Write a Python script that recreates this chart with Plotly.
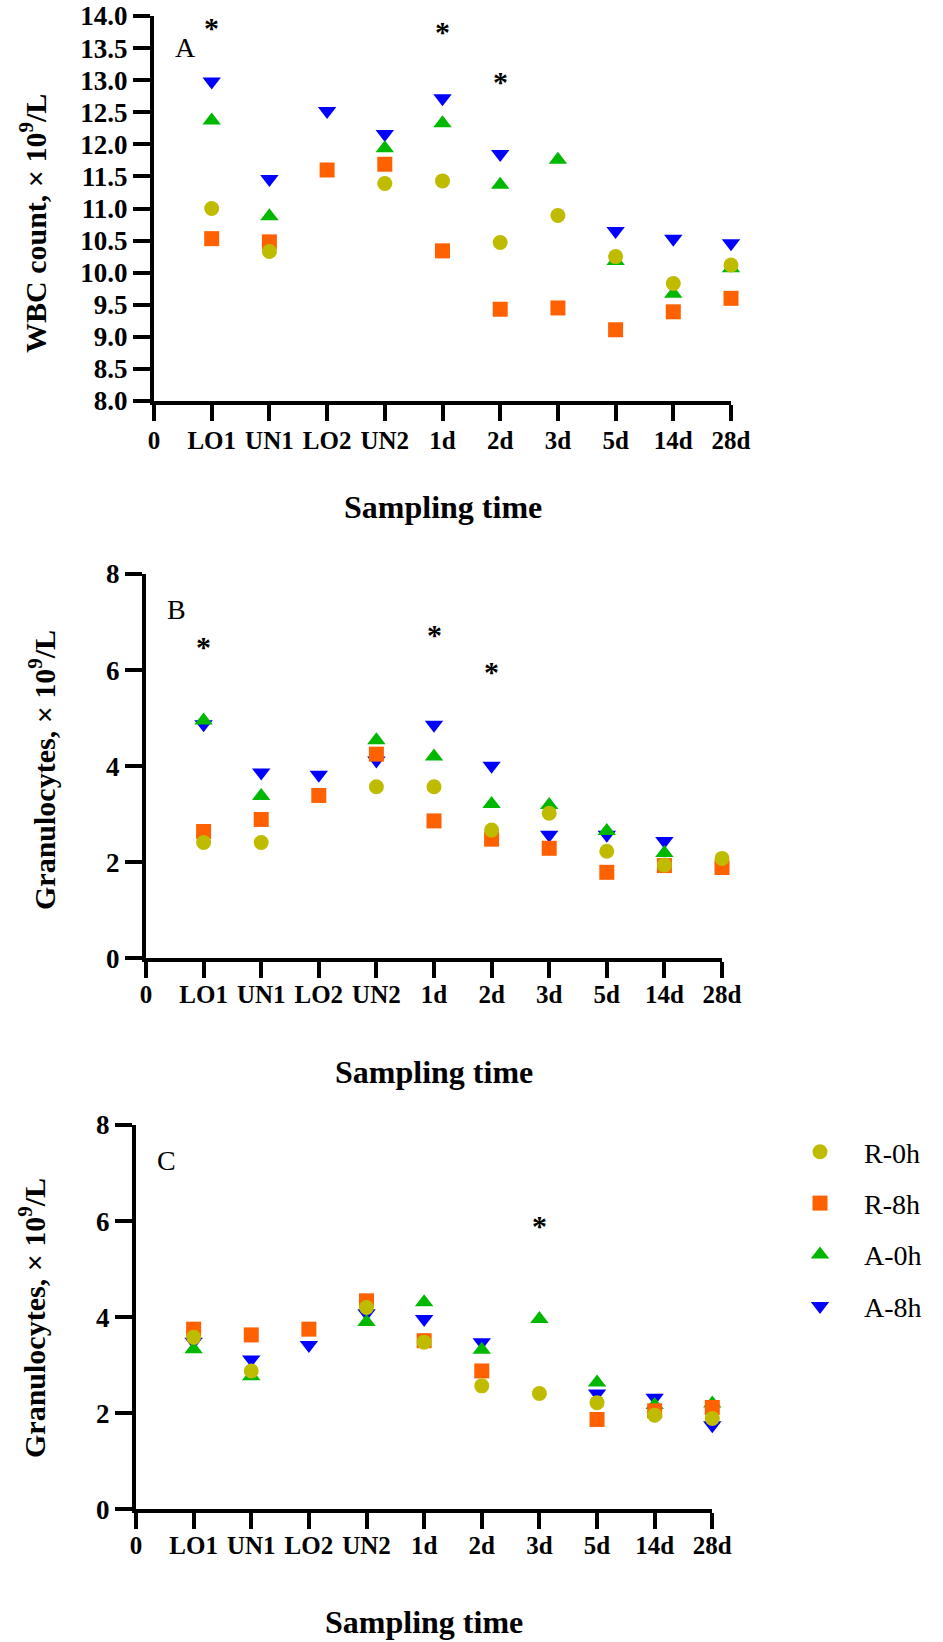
import plotly.graph_objects as go

W, H = 943, 1642

# ---------------- data ----------------
categories = ["LO1", "UN1", "LO2", "UN2", "1d", "2d", "3d", "5d", "14d", "28d"]
tick_labels = ["0"] + categories
series_names = ["R-0h", "R-8h", "A-0h", "A-8h"]

# Panel A: WBC count (x10^9/L)
wbc_r0 = [11.00, 10.33, None, 11.39, 11.43, 10.47, 10.89, 10.25, 9.83, 10.12]
wbc_r8 = [10.53, 10.48, 11.60, 11.69, 10.34, 9.43, 9.45, 9.11, 9.39, 9.60]
wbc_a0 = [12.37, 10.88, None, 11.94, 12.33, 11.37, 11.76, 10.18, 9.67, 10.07]
wbc_a8 = [12.98, 11.46, 12.52, 12.16, 12.72, 11.85, None, 10.65, 10.53, 10.46]

# Panel B: Granulocytes (x10^9/L)
granB_r0 = [2.41, 2.41, None, 3.57, 3.57, 2.67, 3.02, 2.23, 1.94, 2.08]
granB_r8 = [2.64, 2.89, 3.39, 4.25, 2.86, 2.48, 2.29, 1.79, 1.93, 1.89]
granB_a0 = [4.95, 3.38, None, 4.54, 4.20, 3.21, 3.19, 2.65, 2.19, None]
granB_a8 = [4.87, 3.87, 3.82, 4.12, 4.86, 4.01, 2.57, 2.57, 2.44, None]

# Panel C: Granulocytes (x10^9/L)
granC_r0 = [3.58, 2.88, None, 4.20, 3.48, 2.57, 2.41, 2.22, 1.96, 1.89]
granC_r8 = [3.75, 3.63, 3.75, 4.34, 3.51, 2.88, None, 1.87, 2.05, 2.12]
granC_a0 = [3.33, 2.77, None, 3.90, 4.31, 3.32, 3.96, 2.64, 2.17, 2.20]
granC_a8 = [3.49, 3.12, 3.42, 4.08, 3.96, 3.48, None, 2.41, 2.32, 1.75]

# significance markers (category, value)
starA_cats = ["LO1", "1d", "2d"]
starA_vals = [13.83, 13.78, 13.00]
starB_cats = ["LO1", "1d", "2d"]
starB_vals = [6.52, 6.77, 5.99]
starC_cats = ["3d"]
starC_vals = [5.92]

# ---------------- styles ----------------
colors = {"R-0h": "#BFBC00", "R-8h": "#FF6000", "A-0h": "#00B800", "A-8h": "#0000FF"}
symbols = {"R-0h": "circle", "R-8h": "square", "A-0h": "triangle-up", "A-8h": "triangle-down"}
sizes = {"R-0h": 15, "R-8h": 15, "A-0h": 16, "A-8h": 16}
ranks = {"R-0h": 1, "R-8h": 2, "A-0h": 3, "A-8h": 4}
SERIF = "Liberation Serif"


def px_x(p):
    return p / W


def px_y(p):
    return 1 - p / H


xpos = list(range(1, len(categories) + 1))
cat_index = {c: i + 1 for i, c in enumerate(categories)}

panels = [
    dict(data={"R-0h": wbc_r0, "R-8h": wbc_r8, "A-0h": wbc_a0, "A-8h": wbc_a8},
         xdom=(154, 731), ydom=(16, 401), yrange=[8, 14],
         yticks=[8 + 0.5 * i for i in range(13)], yfmt="{:.1f}",
         ytitle="WBC count, × 10<sup>9</sup>/L", ytitle_x=33, ytitle_y=224,
         letter="A", letter_pos=(185, 48),
         stars=(starA_cats, starA_vals), xtitle_y=507, xlab_standoff=-2),
    dict(data={"R-0h": granB_r0, "R-8h": granB_r8, "A-0h": granB_a0, "A-8h": granB_a8},
         xdom=(146, 722), ydom=(574, 958.3), yrange=[0, 8],
         yticks=[0, 2, 4, 6, 8], yfmt="{:d}",
         ytitle="Granulocytes, × 10<sup>9</sup>/L", ytitle_x=42, ytitle_y=770,
         letter="B", letter_pos=(176, 609),
         stars=(starB_cats, starB_vals), xtitle_y=1072, xlab_standoff=-5),
    dict(data={"R-0h": granC_r0, "R-8h": granC_r8, "A-0h": granC_a0, "A-8h": granC_a8},
         xdom=(136, 712.3), ydom=(1125, 1509.3), yrange=[0, 8],
         yticks=[0, 2, 4, 6, 8], yfmt="{:d}",
         ytitle="Granulocytes, × 10<sup>9</sup>/L", ytitle_x=32, ytitle_y=1318,
         letter="C", letter_pos=(166, 1160),
         stars=(starC_cats, starC_vals), xtitle_y=1622, xlab_standoff=-5),
]

fig = go.Figure()
annotations = []
layout_axes = {}

draw_order = ["A-8h", "A-0h", "R-8h", "R-0h"]  # bottom to top

for k, p in enumerate(panels):
    sfx = "" if k == 0 else str(k + 1)
    xa, ya = "x" + sfx, "y" + sfx
    for name in draw_order:
        fig.add_trace(go.Scatter(
            x=xpos, y=p["data"][name], mode="markers", name=name,
            marker=dict(symbol=symbols[name], color=colors[name], size=sizes[name],
                        line=dict(width=0)),
            xaxis=xa, yaxis=ya, cliponaxis=False, hoverinfo="skip",
            legendgroup=name, legendrank=ranks[name], showlegend=(k == 2),
        ))
    layout_axes["xaxis" + sfx] = dict(
        domain=[px_x(p["xdom"][0]), px_x(p["xdom"][1])], anchor=ya,
        range=[0, 10], tickvals=list(range(11)), ticktext=tick_labels,
        showline=True, linewidth=4, linecolor="black", showgrid=False, zeroline=False,
        ticks="outside", ticklen=16, tickwidth=4, tickcolor="black",
        tickfont=dict(family=SERIF, size=25, color="black", weight="bold"),
        ticklabelstandoff=p["xlab_standoff"], automargin=False, fixedrange=True,
    )
    layout_axes["yaxis" + sfx] = dict(
        domain=[px_y(p["ydom"][1]), px_y(p["ydom"][0])], anchor=xa,
        range=p["yrange"], tickvals=p["yticks"],
        ticktext=[p["yfmt"].format(v if p["yfmt"] != "{:d}" else int(v)) for v in p["yticks"]],
        showline=True, linewidth=4, linecolor="black", showgrid=False, zeroline=False,
        ticks="outside", ticklen=17, tickwidth=4, tickcolor="black",
        tickfont=dict(family=SERIF, size=27, color="black", weight="bold"),
        automargin=False, fixedrange=True,
    )
    # y title
    annotations.append(dict(
        text=p["ytitle"], textangle=-90, xref="paper", yref="paper",
        x=px_x(p["ytitle_x"]), y=px_y(p["ytitle_y"]),
        xanchor="center", yanchor="middle", showarrow=False,
        font=dict(family=SERIF, size=30, color="black", weight="bold"),
    ))
    # x title
    annotations.append(dict(
        text="Sampling time", xref="paper", yref="paper",
        x=px_x((p["xdom"][0] + p["xdom"][1]) / 2), y=px_y(p["xtitle_y"]),
        xanchor="center", yanchor="middle", showarrow=False,
        font=dict(family=SERIF, size=32, color="black", weight="bold"),
    ))
    # panel letter
    annotations.append(dict(
        text=p["letter"], xref="paper", yref="paper",
        x=px_x(p["letter_pos"][0]), y=px_y(p["letter_pos"][1]),
        xanchor="center", yanchor="middle", showarrow=False,
        font=dict(family=SERIF, size=28, color="black"),
    ))
    # stars
    for c, v in zip(*p["stars"]):
        annotations.append(dict(
            text="*", xref=xa, yref=ya, x=cat_index[c], y=v,
            xanchor="center", yanchor="middle", showarrow=False, yshift=-1,
            font=dict(family=SERIF, size=30, color="black", weight="bold"),
        ))

fig.update_layout(
    template="none",
    width=W, height=H, autosize=False,
    margin=dict(l=0, r=0, t=0, b=0, pad=0, autoexpand=False),
    paper_bgcolor="white", plot_bgcolor="white",
    annotations=annotations,
    showlegend=True,
    legend=dict(
        x=px_x(776), y=px_y(1127), xanchor="left", yanchor="top",
        traceorder="grouped", tracegroupgap=12, itemwidth=78,
        font=dict(family=SERIF, size=28, color="black"),
        bgcolor="rgba(0,0,0,0)", borderwidth=0,
    ),
    **layout_axes,
)

fig.write_html(
    "out.html",
    config={"displayModeBar": False},
    post_script="document.body.style.margin='0';document.body.style.overflow='hidden';",
)
